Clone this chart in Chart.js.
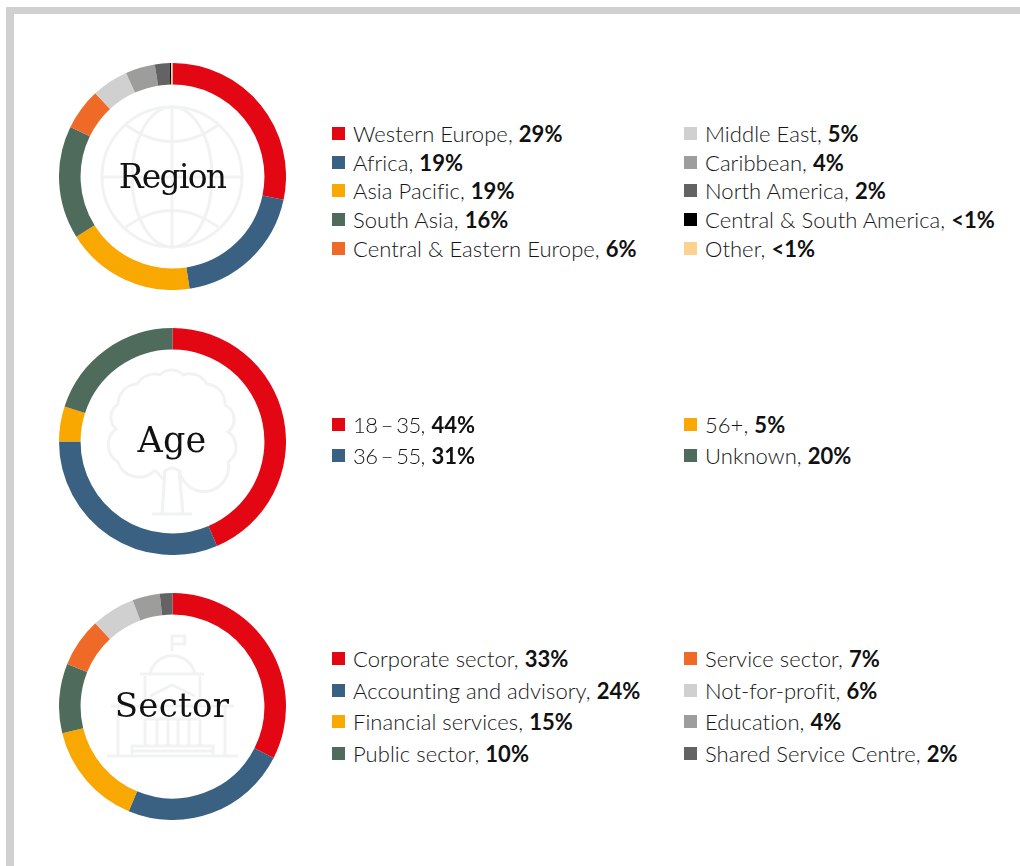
<!DOCTYPE html>
<html><head><meta charset="utf-8">
<script src="https://cdn.jsdelivr.net/npm/chart.js@4"></script>
<style>
html,body{margin:0;padding:0;background:#fff;overflow:hidden}
#page{position:relative;width:1020px;height:866px;overflow:hidden;font-family:Lato,sans-serif;color:#161616}
#frameT{position:absolute;left:6px;top:7px;width:1014px;height:7px;background:#d0d0d0}
#frameL{position:absolute;left:6px;top:7px;width:8px;height:859px;background:#d0d0d0}
canvas{position:absolute}
svg.icon{position:absolute;width:226px;height:226px;overflow:visible}
svg.icon *{fill:none;stroke:#f1f3f3;stroke-width:3}
.title{position:absolute;width:228px;text-align:center;font-family:"DejaVu Serif",serif;color:#111;line-height:40px}
.row{position:absolute;font-size:22px;line-height:24px;white-space:nowrap;font-weight:300;letter-spacing:.05px}
.row i{position:absolute;left:-21px;top:5px;width:13px;height:13px}
.row b{font-weight:700;color:#111}
.dash{word-spacing:-2px;letter-spacing:-.6px}
</style></head><body><div id="page">
<div id="frameT"></div><div id="frameL"></div>
<svg class="icon" id="icon0" viewBox="-113 -113 226 226" style="left:59px;top:64px">
<circle r="70"/><ellipse rx="40" ry="70"/><path d="M0-70V70M-70 0H70M-46-52Q0-19 46-52M-46 50Q0 17 46 50"/></svg>
<svg class="icon" id="icon1" viewBox="-113 -113 226 226" style="left:59px;top:328.5px">
<path d="M-17 28A22 22 0 0 1-54 20A20 20 0 0 1-56-13A16 16 0 0 1-54-38A20 20 0 0 1-35-58A20 20 0 0 1-12-67A16 16 0 0 1 11-67A20 20 0 0 1 35-58A20 20 0 0 1 53-37A16 16 0 0 1 56-10A18 18 0 0 1 56 20A24 24 0 0 1 8 30Q0 22-8 30"/>
<path d="M-7 28L-10 72M7 28L11 72M-20 72H20M-17 28L-8 38M8 28L7 36"/></svg>
<svg class="icon" id="icon2" viewBox="-113 -113 226 226" style="left:59px;top:593.5px">
<path d="M-65 49H66M-40 49V39H41V49M-40 44H41M-54 49V-1M53 49V-1M-61-1H62M-27-1V-31M28-1V-31M-32-33H32M-22-33A23 23 0 0 1 23-33M0-56V-71H13V-63H0M-22-11L0-22L23-11M-27 12H28M-27 39V12M-15 39V12M-4 39V12M6 39V12M17 39V12M28 39V12"/></svg>
<canvas id="c0" width="227" height="227" style="left:58.5px;top:63px;width:227px;height:227px"></canvas>
<canvas id="c1" width="227" height="227" style="left:58.5px;top:328px;width:227px;height:227px"></canvas>
<canvas id="c2" width="227" height="227" style="left:58.5px;top:593px;width:227px;height:227px"></canvas>
<div id="labels"></div>
</div>
<script>
const titles = ["Region", "Age", "Sector"];
const titleSizes = [33, 35, 34];
const titleSpacing = [-1.8, 0.2, 0.3];

const regionLabels = ["Western Europe", "Africa", "Asia Pacific", "South Asia", "Central & Eastern Europe", "Middle East", "Caribbean", "North America", "Central & South America", "Other"];
const regionShown = ["29%", "19%", "19%", "16%", "6%", "5%", "4%", "2%", "<1%", "<1%"];
const regionValues = [28.3, 19.3, 18.5, 16.1, 5.9, 5.2, 4.2, 2.1, 0.2, 0.2];
const regionColors = ["#e30613", "#3a6182", "#f8a800", "#4f6b5b", "#ee6a26", "#d0d0d0", "#9d9d9c", "#646363", "#000000", "#fdd28e"];

const ageLabels = ["18 – 35", "36 – 55", "56+", "Unknown"];
const ageShown = ["44%", "31%", "5%", "20%"];
const ageValues = [43.6, 31.4, 5, 20];
const ageColors = ["#e30613", "#3a6182", "#f8a800", "#4f6b5b"];

const sectorLabels = ["Corporate sector", "Accounting and advisory", "Financial services", "Public sector", "Service sector", "Not-for-profit", "Education", "Shared Service Centre"];
const sectorShown = ["33%", "24%", "15%", "10%", "7%", "6%", "4%", "2%"];
const sectorValues = [32.5, 23.8, 14.9, 9.9, 7, 6.2, 3.9, 1.8];
const sectorColors = ["#e30613", "#3a6182", "#f8a800", "#4f6b5b", "#ee6a26", "#d0d0d0", "#9d9d9c", "#646363"];

const panels = [
  {labels: regionLabels, shown: regionShown, values: regionValues, colors: regionColors, rows: [134, 162.5, 191, 220, 249], perCol: 5, titleY: 177},
  {labels: ageLabels, shown: ageShown, values: ageValues, colors: ageColors, rows: [425, 456], perCol: 2, titleY: 440},
  {labels: sectorLabels, shown: sectorShown, values: sectorValues, colors: sectorColors, rows: [659, 691, 722, 754], perCol: 4, titleY: 705}
];
const colX = [353, 705];
const host = document.getElementById("labels");

panels.forEach((p, idx) => {
  new Chart(document.getElementById("c" + idx), {
    type: "doughnut",
    data: {labels: p.labels, datasets: [{data: p.values, backgroundColor: p.colors, borderWidth: 0}]},
    options: {responsive: false, animation: false, cutout: "81%",
      plugins: {legend: {display: false}, tooltip: {enabled: false}}}
  });
  const t = document.createElement("div");
  t.className = "title";
  t.textContent = titles[idx];
  t.style.left = "58px";
  t.style.top = (p.titleY - 20) + "px";
  t.style.fontSize = titleSizes[idx] + "px";
  t.style.letterSpacing = titleSpacing[idx] + "px";
  host.appendChild(t);
  p.labels.forEach((lab, i) => {
    const col = Math.floor(i / p.perCol), r = i % p.perCol;
    const d = document.createElement("div");
    d.className = "row";
    d.style.left = colX[col] + "px";
    d.style.top = (p.rows[r] - 12) + "px";
    const sw = document.createElement("i");
    sw.style.background = p.colors[i];
    const s = document.createElement("span");
    if (lab.includes("–")) s.className = "dash";
    s.textContent = lab;
    const b = document.createElement("b");
    b.textContent = p.shown[i];
    d.append(sw, s, document.createTextNode(", "), b);
    host.appendChild(d);
  });
});
</script></body></html>
